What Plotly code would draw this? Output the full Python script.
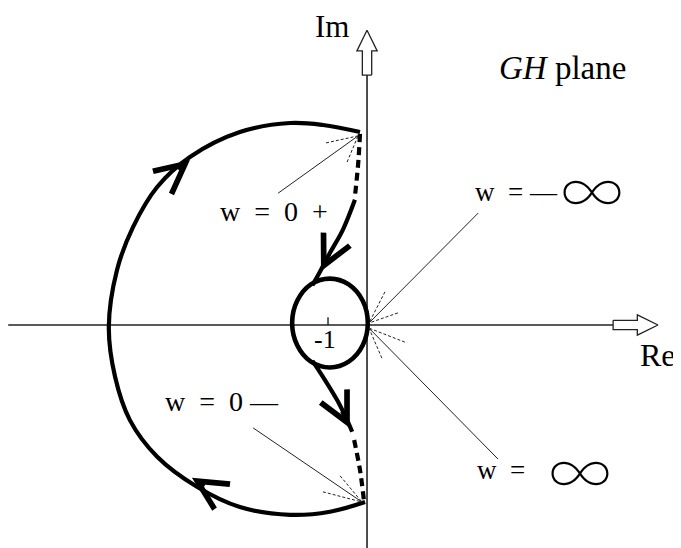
import plotly.graph_objects as go

# ---------------- data (Re / Im units) ----------------
# large contour, from w = 0- (bottom) round the left to w = 0+ (top)
big_re = [-0.05, -0.95, -1.97, -3.26, -4.36, -5.38, -6.08, -6.46, -6.62, -6.41, -6.00, -5.38, -4.54, -3.26, -1.97, -1.13, -0.18]
big_im = [-4.54, -4.79, -4.87, -4.67, -4.15, -3.38, -2.44, -1.33, -0.05, 1.41, 2.51, 3.54, 4.31, 4.95, 5.18, 5.13, 4.95]

# dashed pieces near the imaginary axis
dash_up_re = [-0.18, -0.23, -0.31]
dash_up_im = [4.90, 4.10, 3.30]
dash_lo_re = [-0.33, -0.18, -0.08]
dash_lo_im = [-2.95, -3.72, -4.49]

# solid tails joining the small loop
tail_up_re = [-0.31, -0.62, -0.95, -1.21, -1.40]
tail_up_im = [3.21, 2.44, 1.85, 1.36, 1.02]
tail_lo_re = [-1.40, -1.13, -0.77, -0.51, -0.38]
tail_lo_im = [-0.92, -1.33, -1.92, -2.44, -2.74]

# small loop around -1
loop_re = [-0.95, -0.47, -0.11, 0.02, -0.11, -0.47, -0.95, -1.44, -1.79, -1.92, -1.79, -1.44, -0.95]
loop_im = [1.19, 1.04, 0.62, 0.05, -0.52, -0.94, -1.09, -0.94, -0.52, 0.05, 0.62, 1.04, 1.19]

# direction arrows: tip (x, y) and a point behind it (ax, ay)
dir_tip_x = [-4.54, -4.49, -1.18, -0.44]
dir_tip_y = [4.23, -3.92, 1.38, -2.64]
dir_tail_x = [-4.86, -4.15, -0.95, -0.67]
dir_tail_y = [3.97, -4.13, 1.85, -2.18]

# label pointers: start (label end) -> target
ptr_from_x = [-2.28, 2.85, 3.36, -2.92]
ptr_from_y = [3.38, 2.87, -3.44, -2.64]
ptr_to_x = [-0.23, 0.05, 0.05, -0.13]
ptr_to_y = [4.85, 0.05, -0.08, -4.54]
# short dashed rays converging at each target
ray_from_x = [[-1.05, -0.51], [0.46, 0.79], [0.97, 0.38], [-0.69, -1.13]]
ray_from_y = [[4.67, 4.18], [0.85, 0.31], [-0.44, -0.85], [-3.87, -4.28]]

# axes extents and hollow arrow template (along, across)
re_axis = [-9.2, 6.31]
im_axis = [-5.72, 6.41]
arrow_u = [0, 0.62, 0.62, 1.15, 0.62, 0.62, 0, 0]
arrow_v = [0.12, 0.12, 0.26, 0, -0.26, -0.12, -0.12, 0.12]
minus_one_tick = [0, 0.2]

# text labels
lbl_text = ["Im", "<i>GH</i> plane", "Re", "-1",
            "w\u00a0\u00a0=\u00a0\u00a00\u00a0\u00a0+",
            "w\u00a0\u00a0=\u00a0\u00a00\u00a0\u2014",
            "w\u00a0\u00a0=\u00a0\u2014", "\u221e",
            "w\u00a0\u00a0=", "\u221e"]
lbl_x = [-0.90, 5.0, 7.46, -1.08, -2.38, -3.72, 3.82, 5.77, 3.44, 5.46]
lbl_y = [7.66, 6.59, -0.77, -0.36, 2.90, -1.97, 3.41, 3.49, -3.72, -3.72]
lbl_size = [31, 33, 32, 26, 28, 28, 27, 62, 27, 62]
lbl_font = ["Liberation Serif"] * 7 + ["Noto Sans CJK JP", "Liberation Serif", "Noto Sans CJK JP"]
lbl_weight = [400] * 7 + [100, 400, 100]

# ---------------- figure ----------------
INK = "#000000"
THIN = "#222222"
fig = go.Figure()


def line(xs, ys, width, color=INK, dash="solid", shape="linear"):
    fig.add_trace(go.Scatter(x=xs, y=ys, mode="lines", hoverinfo="skip",
                             line=dict(color=color, width=width, dash=dash, shape=shape)))


# axes
line(re_axis, [0, 0], 1.6, THIN)
line([0, 0], im_axis, 1.6, THIN)
fig.add_trace(go.Scatter(x=[re_axis[1] + u for u in arrow_u], y=arrow_v, mode="lines",
                         fill="toself", fillcolor="white", hoverinfo="skip",
                         line=dict(color=THIN, width=1.3)))
fig.add_trace(go.Scatter(x=arrow_v, y=[im_axis[1] + u for u in arrow_u], mode="lines",
                         fill="toself", fillcolor="white", hoverinfo="skip",
                         line=dict(color=THIN, width=1.3)))
line([-1, -1], minus_one_tick, 1.4, THIN)

# curves
line(big_re, big_im, 4.2, shape="spline")
line(dash_up_re, dash_up_im, 4.2, dash="8px,5px", shape="spline")
line(dash_lo_re, dash_lo_im, 4.2, dash="8px,5px", shape="spline")
line(tail_up_re, tail_up_im, 4.2, shape="spline")
line(tail_lo_re, tail_lo_im, 4.2, shape="spline")
line(loop_re, loop_im, 4.6, shape="spline")

# pointers
for i in range(len(ptr_from_x)):
    line([ptr_from_x[i], ptr_to_x[i]], [ptr_from_y[i], ptr_to_y[i]], 1.0, THIN)
    for rx, ry in zip(ray_from_x[i], ray_from_y[i]):
        line([rx, ptr_to_x[i]], [ry, ptr_to_y[i]], 1.0, THIN, dash="3px,2px")

annotations = []
for tx, ty, ax, ay in zip(dir_tip_x, dir_tip_y, dir_tail_x, dir_tail_y):
    annotations.append(dict(x=tx, y=ty, ax=ax, ay=ay, xref="x", yref="y",
                            axref="x", ayref="y", text="", showarrow=True,
                            arrowhead=5, arrowsize=1.8, arrowwidth=3.2,
                            arrowcolor=INK, standoff=0))
for t, x, y, s, f, w in zip(lbl_text, lbl_x, lbl_y, lbl_size, lbl_font, lbl_weight):
    annotations.append(dict(x=x, y=y, xref="x", yref="y", text=t, showarrow=False,
                            xanchor="center", yanchor="middle",
                            font=dict(family=f, size=s, color=INK, weight=w)))

# the page puts the plot 8 px from the window's top-left corner
fig.update_layout(
    width=673, height=540,
    margin=dict(l=0, r=0, t=0, b=0),
    paper_bgcolor="white", plot_bgcolor="white",
    showlegend=False,
    xaxis=dict(visible=False, range=[-9.205, 8.05], fixedrange=True),
    yaxis=dict(visible=False, range=[-5.72, 8.13], fixedrange=True),
    annotations=annotations,
)

fig.write_html("out.html")
